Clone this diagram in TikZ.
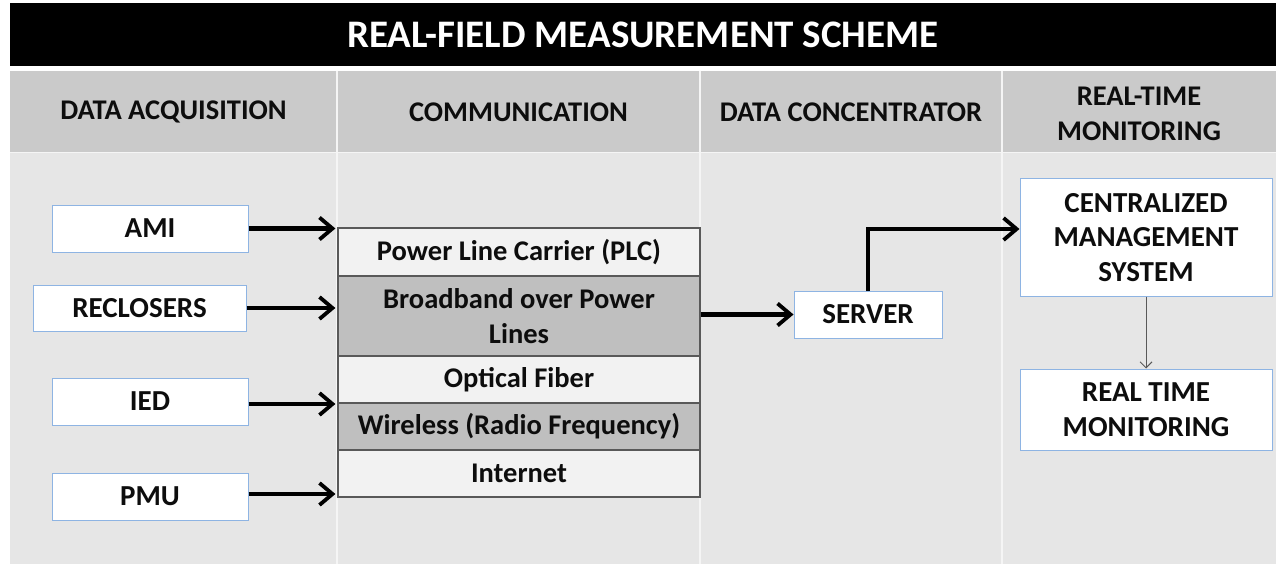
\documentclass[tikz,border=0pt]{standalone}
\usepackage{fontspec}
\setmainfont{Carlito}
\usetikzlibrary{arrows.meta,calc}
\definecolor{bandgray}{HTML}{CACACA}
\definecolor{bodygray}{HTML}{E6E6E6}
\definecolor{rowlight}{HTML}{F2F2F2}
\definecolor{rowdark}{HTML}{BFBFBF}
\definecolor{rowedge}{HTML}{595959}
\definecolor{boxedge}{HTML}{8EB4E3}
\definecolor{inktext}{HTML}{0D0D0D}
\tikzset{
  colhead/.style={font=\bfseries\fontsize{28.5}{34.5}\selectfont, text=inktext, align=center},
  unitbox/.style={draw=boxedge, line width=1pt, fill=white, inner sep=0pt,
    font=\bfseries\fontsize{29}{34.5}\selectfont, text=inktext, align=center},
  layer/.style={draw=rowedge, line width=1.2pt, inner sep=0pt, minimum width=362pt,
    font=\bfseries\fontsize{28.5}{34.5}\selectfont, text=inktext, align=center},
  lightrow/.style={layer, fill=rowlight},
  darkrow/.style={layer, fill=rowdark},
  bigarrow/.style={line width=4.5pt, -{Straight Barb[length=13pt,width=22pt,line width=3.8pt]}},
  thinarrow/.style={draw=rowedge, line width=1pt, -{Straight Barb[length=6pt,width=12pt,line width=1pt]}},
  divider/.style={draw=white!96!black, line width=1.5pt}
}
\begin{document}
\begin{tikzpicture}[x=1pt,y=-1pt]
\useasboundingbox (0,0) rectangle (1276,564);
\fill[white] (0,0) rectangle (1276,564);
% title band
\fill[black] (10,3) rectangle (1276,66);
\node[font=\bfseries\fontsize{39}{44}\selectfont, text=white] (title) at (643,35) {REAL-FIELD MEASUREMENT SCHEME};
% column header row and body
\fill[bandgray] (10,71) rectangle (1276,152);
\fill[bodygray] (10,153.5) rectangle (1276,564);
\foreach \cx in {337,700,1002} \draw[divider] (\cx,71) -- (\cx,564);
\draw[divider] (10,152.7) -- (1276,152.7);
\node[colhead] (h1) at (173.5,112) {DATA ACQUISITION};
\node[colhead] (h2) at (518.5,112) {COMMUNICATION};
\node[colhead] (h3) at (851,112) {DATA CONCENTRATOR};
\node[colhead] (h4) at (1139,114) {REAL-TIME\\MONITORING};
% data acquisition units
\node[unitbox, minimum width=196pt, minimum height=47pt] (ami) at (150,228.5) {AMI};
\node[unitbox, minimum width=213pt, minimum height=46pt] (rec) at (139.5,308) {RECLOSERS};
\node[unitbox, minimum width=196pt, minimum height=47pt] (ied) at (150,401.5) {IED};
\node[unitbox, minimum width=196pt, minimum height=47pt] (pmu) at (150,496.5) {PMU};
% communication layers
\node[lightrow, minimum height=48pt] (plc) at (519,252) {Power Line Carrier (PLC)};
\node[darkrow, minimum height=80pt] (bpl) at (519,316) {Broadband over Power\\Lines};
\node[lightrow, minimum height=47pt] (opt) at (519,379.5) {Optical Fiber};
\node[darkrow, minimum height=47pt] (wls) at (519,426.5) {Wireless (Radio Frequency)};
\node[lightrow, minimum height=47pt] (inet) at (519,473.5) {Internet};
% concentrator and monitoring
\node[unitbox, minimum width=148pt, minimum height=47pt] (srv) at (868,314.5) {SERVER};
\node[unitbox, minimum width=252pt, minimum height=117pt] (cms) at (1146,237.5) {CENTRALIZED\\MANAGEMENT\\SYSTEM};
\node[unitbox, minimum width=252pt, minimum height=81pt] (rtm) at (1146,409.5) {REAL TIME\\MONITORING};
% connectors
\draw[bigarrow] (ami.east) -- ([xshift=-2pt]ami.east -| plc.west);
\draw[bigarrow] (rec.east) -- ([xshift=-2pt]rec.east -| plc.west);
\draw[bigarrow] ([yshift=-2.5pt]ied.east) -- ([yshift=-2.5pt,xshift=-2pt]ied.east -| plc.west);
\draw[bigarrow] ([yshift=2.5pt]pmu.east) -- ([yshift=2.5pt,xshift=-2pt]pmu.east -| plc.west);
\draw[bigarrow] (srv.west -| bpl.east) -- (srv.west);
\draw[bigarrow] (srv.north) |- ([yshift=8.5pt]cms.west);
\draw[thinarrow] (cms.south) -- (rtm.north);
\end{tikzpicture}
\end{document}
